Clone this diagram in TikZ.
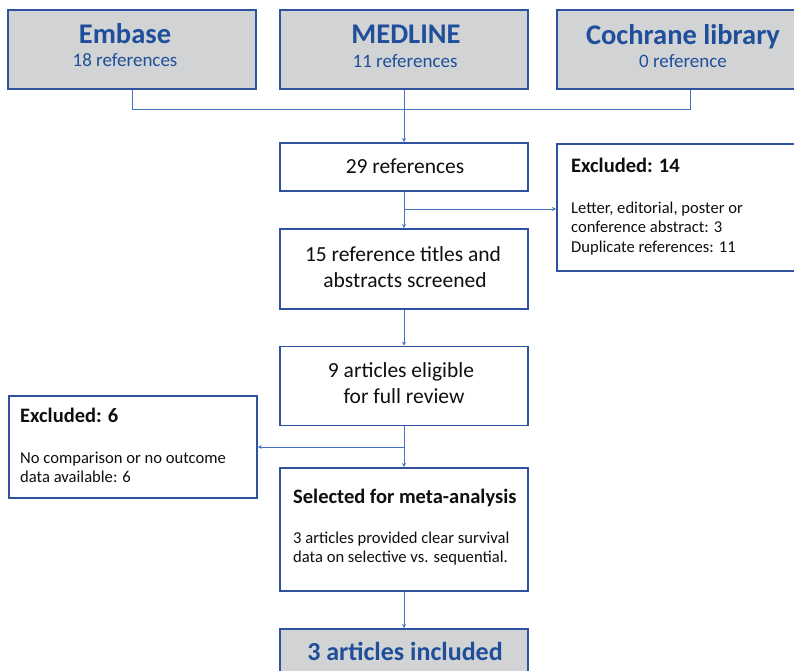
\documentclass[tikz,border=0pt]{standalone}
\usepackage{fontspec}
\setmainfont{Carlito}
\usetikzlibrary{arrows.meta}
\definecolor{bordc}{RGB}{47,82,160}
\definecolor{titc}{RGB}{31,78,154}
\definecolor{linec}{RGB}{68,114,196}
\definecolor{grayf}{RGB}{209,211,213}
\definecolor{txt}{RGB}{15,15,15}
\tikzset{
  box/.style={draw=bordc, line width=1.8pt, fill=white, inner sep=0pt},
  srcbox/.style={box, fill=grayf},
  srctitle/.style={inner sep=0pt, anchor=base, text=titc, font=\fontsize{28.5}{32}\selectfont\bfseries},
  srcsub/.style={inner sep=0pt, anchor=base, text=titc, font=\fontsize{19}{22}\selectfont},
  conn/.style={draw=linec, line width=1pt},
  arr/.style={conn, -{Stealth[length=4pt,width=4pt]}},
  maintxt/.style={inner sep=0pt, anchor=base, text=txt, font=\fontsize{21.5}{26}\selectfont},
  smalltxt/.style={inner sep=0pt, anchor=base west, text=txt, font=\fontsize{16.6}{20}\selectfont},
  headtxt/.style={inner sep=0pt, anchor=base west, text=txt, font=\fontsize{20.5}{24}\selectfont\bfseries}
}
\begin{document}
\begin{tikzpicture}[x=1pt,y=-1pt]
\useasboundingbox (0,0) rectangle (794,671);
\begin{scope}
\clip (0,0) rectangle (794,671);
% source boxes
\node[srcbox, minimum width=248pt, minimum height=79pt] (embase) at (132,49.5) {};
\node[srctitle] (embaseT) at (125,44) {Embase};
\node[srcsub] (embaseS) at (125,67) {18 references};
\node[srcbox, minimum width=248pt, minimum height=79pt] (medline) at (404,49.5) {};
\node[srctitle] (medlineT) at (406,44) {MEDLINE};
\node[srcsub] (medlineS) at (405,68) {11 references};
\node[srcbox, minimum width=254pt, minimum height=79pt, anchor=west] (cochrane) at (556,49.5) {};
\node[srctitle] (cochraneT) at (683,45) {Cochrane library};
\node[srcsub] (cochraneS) at (683,68) {0 reference};
% main flow
\node[box, minimum width=248pt, minimum height=48pt] (r29) at (404,167) {};
\node[maintxt] (r29t) at (405,173) {29 references};
\node[box, minimum width=248pt, minimum height=80pt] (r15) at (404,269) {};
\node[maintxt] (r15a) at (403,261) {15 reference titles and};
\node[maintxt] (r15b) at (405,287) {abstracts screened};
\node[box, minimum width=248pt, minimum height=79pt] (r9) at (404,386) {};
\node[maintxt] (r9a) at (401,377) {9 articles eligible};
\node[maintxt] (r9b) at (404,403) {for full review};
\node[box, minimum width=248pt, minimum height=123pt, anchor=north] (sel) at (404,467) {};
\node[headtxt] (selh) at (293,503) {Selected for meta-analysis};
\node[smalltxt] (selt1) at (293,543) {3 articles provided clear survival};
\node[smalltxt] (selt2) at (293,562) {data on selective vs. sequential.};
\node[srcbox, minimum width=248pt, minimum height=56pt, anchor=north] (incl) at (404,628) {};
\node[inner sep=0pt, anchor=base, text=titc, font=\fontsize{26}{30}\selectfont\bfseries] (incltxt) at (405,660) {3 articles included};
% excluded boxes
\node[box, minimum width=250pt, minimum height=127pt, anchor=north west] (ex14) at (556,143) {};
\node[headtxt] (ex14h) at (571,172) {Excluded: 14};
\node[smalltxt] (ex14a) at (571,213) {Letter, editorial, poster or};
\node[smalltxt] (ex14b) at (571,232.5) {conference abstract: 3};
\node[smalltxt] (ex14c) at (571,252) {Duplicate references: 11};
\node[box, minimum width=248pt, minimum height=102pt, anchor=north west] (ex6) at (8,395) {};
\node[headtxt] (ex6h) at (20,422) {Excluded: 6};
\node[smalltxt] (ex6a) at (20,463) {No comparison or no outcome};
\node[smalltxt] (ex6b) at (20,482) {data available: 6};
% connectors
\coordinate (jl) at (embase.south |- 0,110);
\coordinate (jr) at (690,110);
\draw[conn] (embase.south) -- (jl) -- (jr) -- (jr |- cochrane.south);
\draw[arr] (medline.south) -- (r29.north);
\draw[arr] (r29.south) -- (r15.north);
\coordinate (b1) at (404,209);
\draw[arr] (b1) -- (b1 -| ex14.west);
\draw[arr] (r15.south) -- (r9.north);
\draw[arr] (r9.south) -- (sel.north);
\coordinate (b2) at (404,447);
\draw[arr] (b2) -- (b2 -| ex6.east);
\draw[arr] (sel.south) -- (incl.north);
\end{scope}
\end{tikzpicture}
\end{document}
